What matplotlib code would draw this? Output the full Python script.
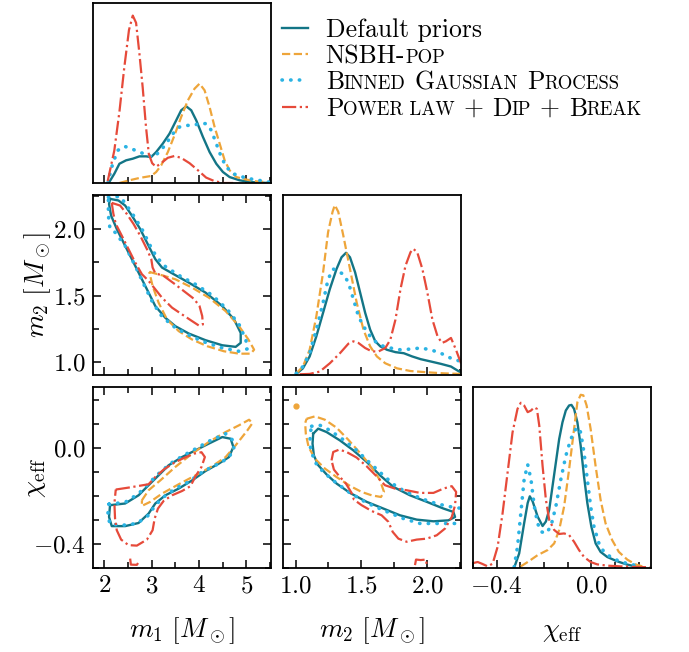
import numpy as np
import matplotlib
matplotlib.use("Agg")
import matplotlib.pyplot as plt
from matplotlib.lines import Line2D
from matplotlib.text import Annotation
from matplotlib.ticker import MultipleLocator

plt.rcParams['font.family'] = 'cmr10'
plt.rcParams['mathtext.fontset'] = 'cm'
plt.rcParams['axes.formatter.use_mathtext'] = True

# ---------------- data ----------------
# 1D marginals: heights are relative to the panel height
m1_def_x = [2.106, 2.212, 2.318, 2.459, 2.600, 2.741, 2.882, 2.988, 3.094, 3.235, 3.376, 3.517, 3.623,
            3.729, 3.835, 3.941, 4.082, 4.223, 4.364, 4.505, 4.646, 4.858, 5.070, 5.282, 5.493]
m1_def_y = [0.006, 0.052, 0.107, 0.126, 0.135, 0.148, 0.148, 0.144, 0.172, 0.219, 0.274, 0.348, 0.404,
            0.426, 0.404, 0.348, 0.256, 0.172, 0.107, 0.061, 0.033, 0.015, 0.006, 0.002, 0.0]
m1_nsbh_x = [2.318, 2.529, 2.741, 2.988, 3.094, 3.200, 3.341, 3.482, 3.623, 3.764, 3.905, 4.011, 4.117,
             4.223, 4.329, 4.435, 4.541, 4.646, 4.788, 4.999, 5.211, 5.493]
m1_nsbh_y = [0.0, 0.015, 0.028, 0.039, 0.061, 0.098, 0.172, 0.265, 0.367, 0.459, 0.524, 0.552, 0.515,
             0.422, 0.311, 0.219, 0.126, 0.070, 0.033, 0.019, 0.009, 0.004]
m1_bgp_x = [2.071, 2.176, 2.282, 2.423, 2.565, 2.741, 2.917, 3.023, 3.164, 3.306, 3.447, 3.588, 3.729,
            3.870, 4.011, 4.152, 4.258, 4.364, 4.470, 4.576, 4.717, 4.929, 5.140, 5.352, 5.493]
m1_bgp_y = [0.0, 0.107, 0.181, 0.204, 0.191, 0.172, 0.154, 0.144, 0.172, 0.219, 0.274, 0.311, 0.320,
            0.320, 0.330, 0.330, 0.293, 0.219, 0.144, 0.089, 0.052, 0.033, 0.020, 0.011, 0.004]
m1_pdb_x = [2.07, 2.21, 2.32, 2.42, 2.52, 2.60, 2.67, 2.74, 2.81, 2.88, 2.94, 3.01, 3.09, 3.20, 3.34,
            3.48, 3.62, 3.80, 3.98, 4.15, 4.33, 4.51, 4.72]
m1_pdb_y = [0.01, 0.18, 0.40, 0.64, 0.85, 0.93, 0.89, 0.72, 0.53, 0.31, 0.16, 0.11, 0.09, 0.11, 0.14,
            0.15, 0.14, 0.11, 0.07, 0.03, 0.01, 0.0, 0.0]

m2_def_x = [1.005, 1.056, 1.107, 1.158, 1.209, 1.260, 1.311, 1.349, 1.383, 1.413, 1.452, 1.490, 1.528,
            1.566, 1.605, 1.643, 1.694, 1.758, 1.821, 1.885, 1.949, 2.026, 2.102, 2.179, 2.255]
m2_def_y = [0.006, 0.037, 0.103, 0.215, 0.346, 0.477, 0.589, 0.654, 0.679, 0.654, 0.570, 0.458, 0.346,
            0.252, 0.187, 0.159, 0.140, 0.127, 0.121, 0.103, 0.088, 0.075, 0.062, 0.047, 0.013]
m2_nsbh_x = [1.005, 1.056, 1.107, 1.158, 1.209, 1.247, 1.281, 1.298, 1.324, 1.362, 1.413, 1.464, 1.515,
             1.566, 1.617, 1.681, 1.770, 1.872, 2.000, 2.128, 2.255]
m2_nsbh_y = [0.009, 0.047, 0.140, 0.327, 0.570, 0.794, 0.907, 0.944, 0.907, 0.776, 0.589, 0.402, 0.252,
             0.159, 0.103, 0.065, 0.037, 0.022, 0.015, 0.009, 0.006]
m2_bgp_x = [1.005, 1.056, 1.107, 1.158, 1.209, 1.247, 1.286, 1.324, 1.362, 1.401, 1.439, 1.477, 1.515,
            1.566, 1.617, 1.668, 1.719, 1.796, 1.872, 1.949, 2.026, 2.102, 2.179, 2.255]
m2_bgp_y = [0.009, 0.047, 0.121, 0.252, 0.402, 0.533, 0.589, 0.574, 0.561, 0.514, 0.421, 0.327, 0.271,
            0.215, 0.178, 0.159, 0.150, 0.140, 0.144, 0.150, 0.140, 0.121, 0.093, 0.075]
m2_pdb_x = [1.031, 1.107, 1.184, 1.260, 1.337, 1.401, 1.439, 1.477, 1.528, 1.579, 1.630, 1.681, 1.719,
            1.758, 1.796, 1.834, 1.872, 1.893, 1.923, 1.962, 2.000, 2.038, 2.077, 2.110, 2.140, 2.179,
            2.217, 2.255]
m2_pdb_y = [0.004, 0.006, 0.019, 0.065, 0.121, 0.174, 0.187, 0.178, 0.150, 0.131, 0.131, 0.150, 0.196,
            0.308, 0.477, 0.607, 0.682, 0.701, 0.682, 0.589, 0.458, 0.308, 0.215, 0.178, 0.187, 0.206,
            0.140, 0.065]

chi_def_x = [-0.326, -0.305, -0.284, -0.269, -0.260, -0.248, -0.227, -0.206, -0.192, -0.178, -0.164,
             -0.150, -0.136, -0.122, -0.108, -0.094, -0.084, -0.073, -0.059, -0.045, -0.031, -0.017,
             0.000, 0.018, 0.039, 0.067, 0.109, 0.151, 0.194]
chi_def_y = [0.002, 0.080, 0.247, 0.359, 0.396, 0.368, 0.284, 0.232, 0.257, 0.322, 0.452, 0.582, 0.712,
             0.805, 0.870, 0.898, 0.901, 0.879, 0.805, 0.675, 0.507, 0.359, 0.229, 0.136, 0.089, 0.061,
             0.037, 0.019, 0.006]
chi_nsbh_x = [-0.298, -0.269, -0.227, -0.185, -0.157, -0.136, -0.115, -0.094, -0.073, -0.059, -0.045,
              -0.034, -0.020, -0.003, 0.018, 0.039, 0.060, 0.088, 0.116, 0.152, 0.187, 0.215]
chi_nsbh_y = [0.009, 0.033, 0.071, 0.099, 0.136, 0.210, 0.340, 0.545, 0.768, 0.916, 0.957, 0.954,
              0.898, 0.768, 0.563, 0.377, 0.247, 0.154, 0.089, 0.046, 0.020, 0.009]
chi_bgp_x = [-0.326, -0.312, -0.298, -0.284, -0.269, -0.255, -0.241, -0.227, -0.213, -0.192, -0.171,
             -0.150, -0.129, -0.108, -0.087, -0.066, -0.056, -0.045, -0.031, -0.017, -0.003, 0.011,
             0.032, 0.053, 0.081, 0.109, 0.152, 0.194]
chi_bgp_y = [0.006, 0.117, 0.303, 0.489, 0.572, 0.489, 0.340, 0.247, 0.201, 0.191, 0.229, 0.340, 0.489,
             0.619, 0.712, 0.768, 0.777, 0.749, 0.638, 0.489, 0.340, 0.229, 0.136, 0.089, 0.061, 0.043,
             0.024, 0.013]
chi_pdb_x = [-0.497, -0.480, -0.463, -0.438, -0.417, -0.396, -0.375, -0.354, -0.333, -0.312, -0.298,
             -0.284, -0.269, -0.255, -0.241, -0.230, -0.220, -0.206, -0.192, -0.178, -0.157, -0.136,
             -0.115, -0.094, -0.073, -0.052, -0.031, -0.003, 0.025, 0.067, 0.123, 0.180, 0.250]
chi_pdb_y = [0.028, 0.033, 0.024, 0.009, 0.024, 0.117, 0.303, 0.526, 0.749, 0.879, 0.913, 0.898, 0.861,
             0.870, 0.888, 0.879, 0.786, 0.563, 0.377, 0.266, 0.210, 0.188, 0.191, 0.182, 0.145, 0.099,
             0.061, 0.033, 0.020, 0.013, 0.009, 0.006, 0.004]

# 90% credible contours, (x, y) vertices
m1m2_def = [(2.120, 2.226), (2.297, 2.214), (2.439, 2.176), (2.580, 2.101), (2.757, 2.000), (2.934, 1.874),
            (3.076, 1.774), (3.217, 1.711), (3.465, 1.661), (3.783, 1.598), (4.137, 1.523), (4.491, 1.422),
            (4.739, 1.322), (4.880, 1.221), (4.880, 1.146), (4.774, 1.116), (4.491, 1.128), (4.137, 1.166),
            (3.783, 1.216), (3.500, 1.271), (3.288, 1.334), (3.076, 1.422), (2.934, 1.523), (2.793, 1.623),
            (2.616, 1.749), (2.439, 1.874), (2.262, 2.000), (2.142, 2.101), (2.099, 2.188)]
m1m2_nsbh = [(2.948, 1.678), (3.217, 1.653), (3.500, 1.623), (3.854, 1.560), (4.208, 1.485), (4.562, 1.384),
             (4.845, 1.271), (5.043, 1.171), (5.163, 1.095), (5.093, 1.065), (4.845, 1.065), (4.527, 1.083),
             (4.173, 1.121), (3.854, 1.171), (3.571, 1.234), (3.323, 1.322), (3.146, 1.447), (3.019, 1.573)]
m1m2_bgp = [(2.085, 2.239), (2.333, 2.244), (2.474, 2.176), (2.616, 2.101), (2.793, 2.000), (2.970, 1.874),
            (3.111, 1.786), (3.288, 1.719), (3.571, 1.653), (3.925, 1.585), (4.279, 1.503), (4.597, 1.397),
            (4.845, 1.284), (4.987, 1.171), (5.022, 1.101), (4.845, 1.083), (4.491, 1.108), (4.067, 1.158),
            (3.713, 1.216), (3.430, 1.276), (3.182, 1.359), (3.005, 1.460), (2.849, 1.573), (2.651, 1.724),
            (2.439, 1.874), (2.226, 1.975), (2.120, 2.000), (2.085, 2.101)]
m1m2_pdb = [(2.156, 2.196), (2.333, 2.176), (2.474, 2.113), (2.616, 2.038), (2.757, 1.950), (2.899, 1.849),
            (2.991, 1.774), (3.019, 1.711), (3.076, 1.668), (3.253, 1.648), (3.465, 1.593), (3.677, 1.535),
            (3.890, 1.477), (4.010, 1.422), (4.067, 1.347), (4.081, 1.284), (3.996, 1.276), (3.854, 1.309),
            (3.642, 1.359), (3.430, 1.410), (3.217, 1.485), (3.076, 1.548), (2.934, 1.611), (2.793, 1.661),
            (2.651, 1.749), (2.510, 1.849), (2.368, 1.950), (2.241, 2.038), (2.191, 2.113)]

m1chi_def = [(2.120, -0.239), (2.439, -0.232), (2.722, -0.198), (2.934, -0.156), (3.146, -0.115),
             (3.359, -0.073), (3.642, -0.039), (3.925, -0.011), (4.208, 0.017), (4.491, 0.044),
             (4.668, 0.037), (4.725, 0.003), (4.633, -0.039), (4.420, -0.066), (4.137, -0.097),
             (3.854, -0.136), (3.571, -0.170), (3.288, -0.198), (3.076, -0.232), (2.934, -0.274),
             (2.722, -0.313), (2.439, -0.326), (2.156, -0.326), (2.099, -0.288)]
m1chi_nsbh = [(2.793, -0.219), (2.934, -0.177), (3.182, -0.136), (3.500, -0.080), (3.854, -0.025),
              (4.208, 0.024), (4.562, 0.065), (4.845, 0.093), (5.057, 0.116), (5.128, 0.102),
              (5.022, 0.072), (4.774, 0.010), (4.562, -0.039), (4.279, -0.077), (3.925, -0.115),
              (3.571, -0.152), (3.217, -0.191), (2.970, -0.225), (2.793, -0.242)]
m1chi_bgp = [(2.099, -0.235), (2.439, -0.227), (2.722, -0.191), (2.934, -0.149), (3.146, -0.108),
             (3.394, -0.066), (3.677, -0.032), (3.960, -0.001), (4.243, 0.030), (4.562, 0.058),
             (4.718, 0.030), (4.739, -0.011), (4.597, -0.046), (4.350, -0.073), (4.067, -0.101),
             (3.783, -0.142), (3.500, -0.170), (3.253, -0.205), (3.076, -0.239), (2.934, -0.281),
             (2.686, -0.315), (2.403, -0.322), (2.120, -0.318), (2.071, -0.281)]
m1chi_pdb = [(2.241, -0.174), (2.510, -0.166), (2.757, -0.158), (2.934, -0.152), (3.076, -0.122),
             (3.253, -0.091), (3.465, -0.064), (3.677, -0.043), (3.890, -0.025), (4.052, -0.019),
             (4.123, -0.039), (4.052, -0.080), (3.925, -0.119), (3.819, -0.160), (3.642, -0.180),
             (3.430, -0.198), (3.253, -0.221), (3.132, -0.253), (3.062, -0.295), (3.019, -0.343),
             (2.899, -0.382), (2.686, -0.407), (2.510, -0.405), (2.354, -0.382), (2.262, -0.343),
             (2.226, -0.295), (2.212, -0.232)]
m1chi_pdb_tail = [(2.545, -0.461), (2.560, -0.486), (2.686, -0.487), (2.743, -0.470)]

m2chi_def = [(1.134, 0.058), (1.172, 0.079), (1.235, 0.065), (1.337, 0.030), (1.438, -0.011), (1.539, -0.059),
             (1.641, -0.115), (1.742, -0.163), (1.868, -0.198), (1.995, -0.225), (2.122, -0.253),
             (2.197, -0.267), (2.210, -0.288), (2.159, -0.302), (2.046, -0.306), (1.919, -0.299),
             (1.792, -0.281), (1.666, -0.253), (1.539, -0.225), (1.413, -0.188), (1.311, -0.149),
             (1.235, -0.111), (1.172, -0.073), (1.139, -0.032), (1.129, 0.017)]
m2chi_nsbh = [(1.084, 0.120), (1.147, 0.130), (1.223, 0.116), (1.311, 0.083), (1.400, 0.033), (1.489, -0.022),
              (1.577, -0.080), (1.641, -0.136), (1.671, -0.184), (1.648, -0.205), (1.577, -0.198),
              (1.501, -0.184), (1.413, -0.159), (1.311, -0.122), (1.223, -0.087), (1.147, -0.046),
              (1.099, 0.003), (1.078, 0.058), (1.073, 0.102)]
m2chi_nsbh_dot = (1.003, 0.172)
m2chi_bgp = [(1.122, 0.089), (1.185, 0.093), (1.261, 0.072), (1.362, 0.033), (1.463, -0.011), (1.565, -0.064),
             (1.666, -0.115), (1.767, -0.163), (1.894, -0.198), (2.021, -0.225), (2.147, -0.243),
             (2.300, -0.256), (2.300, -0.315), (2.099, -0.315), (1.944, -0.315), (1.820, -0.295),
             (1.666, -0.260), (1.539, -0.229), (1.413, -0.188), (1.299, -0.142), (1.210, -0.101),
             (1.147, -0.060), (1.114, -0.004), (1.109, 0.051)]
m2chi_pdb = [(1.273, -0.053), (1.286, -0.018), (1.332, -0.008), (1.387, -0.018), (1.463, -0.041),
             (1.539, -0.077), (1.615, -0.119), (1.678, -0.156), (1.754, -0.170), (1.843, -0.177),
             (1.944, -0.188), (2.046, -0.188), (2.122, -0.170), (2.185, -0.160), (2.218, -0.184),
             (2.210, -0.239), (2.185, -0.288), (2.134, -0.336), (2.071, -0.364), (1.995, -0.378),
             (1.919, -0.382), (1.843, -0.391), (1.780, -0.378), (1.737, -0.350), (1.704, -0.308),
             (1.653, -0.281), (1.577, -0.263), (1.501, -0.239), (1.443, -0.216), (1.425, -0.188),
             (1.382, -0.149), (1.332, -0.119), (1.291, -0.091)]
m2chi_pdb_tail = [(1.906, -0.488), (1.914, -0.465), (1.949, -0.467), (1.990, -0.465), (1.995, -0.488)]

m1_lim = (1.76, 5.52)
m2_lim = (0.905, 2.255)
chi_lim = (-0.5, 0.252)

teal, orange, cyan, red = '#137586', '#eea53a', '#2bb3e3', '#e64a3a'
dotted = (0, (0.1, 2.3))
sty = {
    'def': dict(color=teal, ls='-', lw=1.7),
    'nsbh': dict(color=orange, ls='--', lw=1.6),
    'bgp': dict(color=cyan, ls=dotted, lw=2.6, dash_capstyle='round'),
    'pdb': dict(color=red, ls='-.', lw=1.6),
}

# ---------------- figure ----------------
W, H = 689, 652
fig = plt.figure(figsize=(W / 100, H / 100), dpi=100)


def panel(left, top, w=178, h=180):
    return fig.add_axes([left / W, 1 - (top + h) / H, w / W, h / H])


lefts = [93, 283, 473]
tops = [3, 195, 387]
ax_m1 = panel(lefts[0], tops[0])
ax_m1m2 = panel(lefts[0], tops[1])
ax_m2 = panel(lefts[1], tops[1])
ax_m1chi = panel(lefts[0], tops[2], h=181)
ax_m2chi = panel(lefts[1], tops[2], h=181)
ax_chi = panel(lefts[2], tops[2], h=181)


def closed(pts):
    a = np.array(pts)
    return np.vstack([a, a[:1]])


# diagonal marginals
for key, xs, ys in [('def', m1_def_x, m1_def_y), ('nsbh', m1_nsbh_x, m1_nsbh_y),
                    ('bgp', m1_bgp_x, m1_bgp_y), ('pdb', m1_pdb_x, m1_pdb_y)]:
    ax_m1.plot(xs, ys, **sty[key])
for key, xs, ys in [('def', m2_def_x, m2_def_y), ('nsbh', m2_nsbh_x, m2_nsbh_y),
                    ('bgp', m2_bgp_x, m2_bgp_y), ('pdb', m2_pdb_x, m2_pdb_y)]:
    ax_m2.plot(xs, ys, **sty[key])
for key, xs, ys in [('def', chi_def_x, chi_def_y), ('nsbh', chi_nsbh_x, chi_nsbh_y),
                    ('bgp', chi_bgp_x, chi_bgp_y), ('pdb', chi_pdb_x, chi_pdb_y)]:
    ax_chi.plot(xs, ys, **sty[key])

# contours
for ax, sets in [(ax_m1m2, [('def', m1m2_def), ('nsbh', m1m2_nsbh), ('bgp', m1m2_bgp), ('pdb', m1m2_pdb)]),
                 (ax_m1chi, [('def', m1chi_def), ('nsbh', m1chi_nsbh), ('bgp', m1chi_bgp), ('pdb', m1chi_pdb)]),
                 (ax_m2chi, [('def', m2chi_def), ('nsbh', m2chi_nsbh), ('bgp', m2chi_bgp), ('pdb', m2chi_pdb)])]:
    for key, pts in sets:
        c = closed(pts)
        ax.plot(c[:, 0], c[:, 1], **sty[key])

t = np.array(m1chi_pdb_tail)
ax_m1chi.plot(t[:, 0], t[:, 1], **sty['pdb'])
t = np.array(m2chi_pdb_tail)
ax_m2chi.plot(t[:, 0], t[:, 1], **sty['pdb'])
ax_m2chi.plot([m2chi_nsbh_dot[0]], [m2chi_nsbh_dot[1]], 'o', color=orange, ms=3.5)

# limits and ticks
for ax in [ax_m1, ax_m1m2, ax_m1chi]:
    ax.set_xlim(*m1_lim)
    ax.xaxis.set_major_locator(MultipleLocator(1))
    ax.xaxis.set_minor_locator(MultipleLocator(0.5))
for ax in [ax_m2, ax_m2chi]:
    ax.set_xlim(*m2_lim)
    ax.xaxis.set_major_locator(MultipleLocator(0.5))
    ax.xaxis.set_minor_locator(MultipleLocator(0.25))
ax_chi.set_xlim(*chi_lim)
ax_chi.xaxis.set_major_locator(MultipleLocator(0.4))
ax_chi.xaxis.set_minor_locator(MultipleLocator(0.1))
ax_m1m2.set_ylim(*m2_lim)
ax_m1m2.yaxis.set_major_locator(MultipleLocator(0.5))
ax_m1m2.yaxis.set_minor_locator(MultipleLocator(0.25))
for ax in [ax_m1chi, ax_m2chi]:
    ax.set_ylim(*chi_lim)
    ax.yaxis.set_major_locator(MultipleLocator(0.4))
    ax.yaxis.set_minor_locator(MultipleLocator(0.1))
for ax in [ax_m1, ax_m2, ax_chi]:
    ax.set_ylim(0, 1)
    ax.set_yticks([])

for ax in fig.axes:
    for s in ax.spines.values():
        s.set_linewidth(1.3)
    diag = ax in (ax_m1, ax_m2, ax_chi)
    ax.tick_params(which='both', direction='in', bottom=True, top=not diag,
                   left=not diag, right=not diag, labelsize=18, pad=5, width=1.1)
    ax.tick_params(which='major', length=5.5)
    ax.tick_params(which='minor', length=4)

for ax in [ax_m1, ax_m1m2, ax_m2]:
    ax.tick_params(labelbottom=False)
ax_m2chi.tick_params(labelleft=False)

lab = 19.5
ax_m1chi.set_xlabel(r'$m_1\ [M_\odot]$', fontsize=lab, va='baseline')
ax_m2chi.set_xlabel(r'$m_2\ [M_\odot]$', fontsize=lab, va='baseline')
ax_chi.set_xlabel(r'$\chi_{\rm eff}$', fontsize=lab, va='baseline')
for ax in [ax_m1chi, ax_m2chi, ax_chi]:
    ax.xaxis.set_label_coords(0.5, -0.38)
ax_m1m2.set_ylabel(r'$m_2\ [M_\odot]$', fontsize=lab, va='baseline')
ax_m1chi.set_ylabel(r'$\chi_{\rm eff}$', fontsize=lab, va='baseline')
ax_m1m2.yaxis.set_label_coords(-0.275, 0.5)
ax_m1chi.yaxis.set_label_coords(-0.29, 0.5)

# legend with small-caps labels
big, small = 18.5, 13.5
handles = [Line2D([], [], **sty[k]) for k in ['def', 'nsbh', 'bgp', 'pdb']]
leg = fig.legend(handles, ['Default priors', 'NSBH-', 'B', 'P'], loc='upper left',
                 bbox_to_anchor=(282 / W, 1 - 18 / H), frameon=False, fontsize=big,
                 borderpad=0, borderaxespad=0, handlelength=1.0, handletextpad=0.7,
                 labelspacing=0.1)

rest = [
    None,
    [('POP', True)],
    [('INNED', True), (' ', False), ('G', False), ('AUSSIAN', True), (' ', False),
     ('P', False), ('ROCESS', True)],
    [('OWER LAW', True), (' ', False), ('+', False), (' ', False), ('D', False), ('IP', True),
     (' ', False), ('+', False), (' ', False), ('B', False), ('REAK', True)],
]
for txt, parts in zip(leg.get_texts(), rest):
    if parts is None:
        continue
    prev, prev_fs, gap = txt, big, 0.0
    for s, is_small in parts:
        if s == ' ':
            gap += 0.34 * big
            continue
        fs = small if is_small else big
        a = Annotation(s, xy=(1, 0), xycoords=prev, xytext=(gap, 0.2 * (prev_fs - fs)),
                       textcoords='offset points', fontsize=fs, ha='left', va='bottom', zorder=10)
        fig.add_artist(a)
        prev, prev_fs, gap = a, fs, 0.0

fig.savefig('out.png', dpi=100)
